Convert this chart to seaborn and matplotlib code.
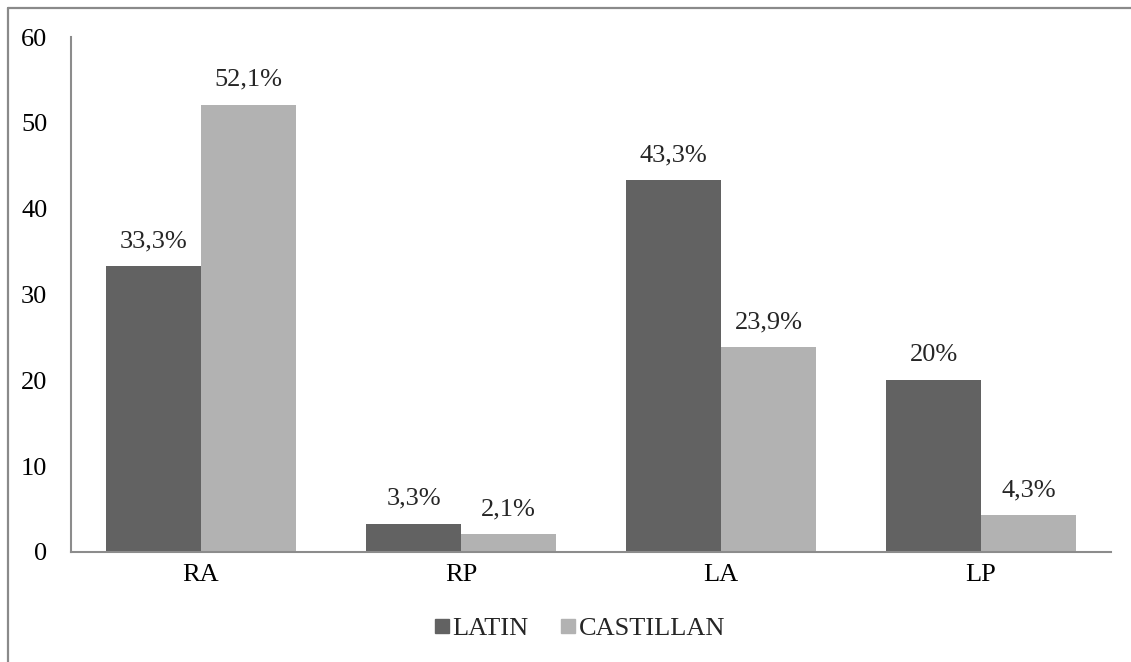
import numpy as np
import pandas as pd
import seaborn as sns
import matplotlib.pyplot as plt
from matplotlib.lines import Line2D

categories = ["RA", "RP", "LA", "LP"]
latin = [33.3, 3.3, 43.3, 20.0]
castillan = [52.1, 2.1, 23.9, 4.3]
latin_labels = ["33,3%", "3,3%", "43,3%", "20%"]
castillan_labels = ["52,1%", "2,1%", "23,9%", "4,3%"]
series = ["LATIN", "CASTILLAN"]
yticks = [0, 10, 20, 30, 40, 50, 60]

df = pd.DataFrame({
    "cat": categories * 2,
    "val": latin + castillan,
    "serie": [series[0]] * 4 + [series[1]] * 4,
})

sns.set_theme(style="white")
plt.rcParams["font.family"] = ["Liberation Serif", "DejaVu Serif"]

fig = plt.figure(figsize=(11.31, 6.62), dpi=100)
ax = fig.add_axes([0.0628, 0.1662, 0.9195, 0.7779])

pal = {"LATIN": "#626262", "CASTILLAN": "#b2b2b2"}
sns.barplot(data=df, x="cat", y="val", hue="serie", palette=pal, width=0.73,
            saturation=1, ax=ax, legend=False, linewidth=0)

fs = 19
ax.set_ylim(0, 60)
ax.set_yticks(yticks)
ax.set_xlim(-0.5, 3.5)
ax.set_xlabel("")
ax.set_ylabel("")
ax.tick_params(axis="both", labelsize=fs, length=0, colors="black")
ax.tick_params(axis="x", pad=9)
ax.tick_params(axis="y", pad=17)
for s in ["top", "right"]:
    ax.spines[s].set_visible(False)
for s in ["left", "bottom"]:
    ax.spines[s].set_color("#8c8c8c")
    ax.spines[s].set_linewidth(1.5)

for cont, labs in zip(ax.containers, [latin_labels, castillan_labels]):
    ax.bar_label(cont, labels=labs, padding=10, fontsize=fs)

handles = [Line2D([], [], marker="s", linestyle="", markersize=10,
                  color=pal[s]) for s in series]
fig.legend(handles, series, loc="center", bbox_to_anchor=(0.51, 0.051),
           ncol=2, frameon=False, fontsize=fs, handletextpad=-0.1,
           columnspacing=1.0, handlelength=1.0)

# outer border (left and top)
fig.add_artist(Line2D([7.5 / 1131, 7.5 / 1131], [0, 1 - 7.5 / 662],
                      transform=fig.transFigure, color="#8a8a8a", lw=1.6))
fig.add_artist(Line2D([7.5 / 1131, 1], [1 - 7.5 / 662, 1 - 7.5 / 662],
                      transform=fig.transFigure, color="#8a8a8a", lw=1.6))

fig.savefig("out.png", dpi=100)
